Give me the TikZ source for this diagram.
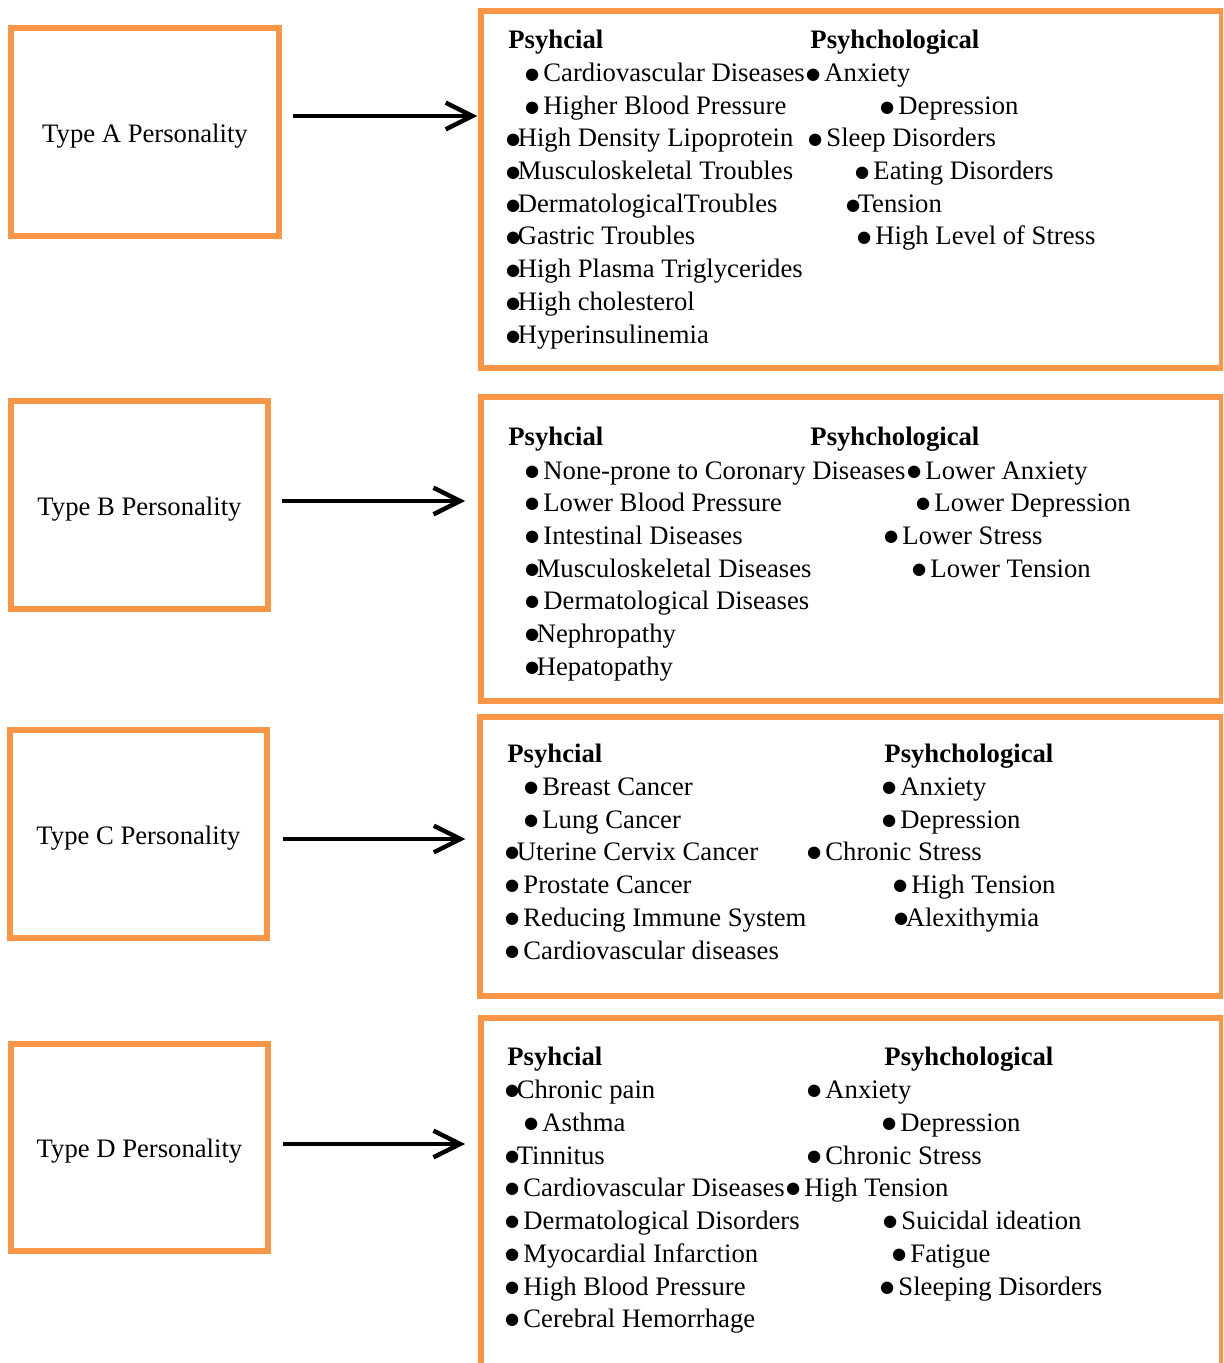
\documentclass[tikz,border=0pt]{standalone}
\usepackage{fontspec}
\setmainfont{Liberation Serif}
\newfontfamily\symfont{DejaVu Sans}
\usetikzlibrary{arrows.meta, fit}
\definecolor{cam}{RGB}{247,150,70}
\newcommand{\bul}{\makebox[4.2pt][c]{\raisebox{1.1pt}{\fontsize{7.3}{8}\symfont ●}}}

\begin{document}
\begin{tikzpicture}[x=0.45pt, y=-0.45pt,
		kbox/.style={draw=cam, line width=2.3pt, inner sep=0pt},
		ltext/.style={inner sep=0pt, yshift=-1.8pt, font=\fontsize{12}{14}\selectfont},
		rtext/.style={anchor=base west, inner sep=0pt, text height=8.5pt, text depth=2.5pt, font=\fontsize{12}{14}\selectfont},
		link/.style={-{Straight Barb[length=12pt, width=12pt]}, line width=2pt}]
			\useasboundingbox (0,0) rectangle (1223,1363);
			\clip (0,0) rectangle (1223,1363);

			% Các hộp bên trái
			\node[kbox, fit={(11,28) (279,236)}] (tA) {};
			\node[kbox, fit={(11,401) (268,609)}] (tB) {};
			\node[kbox, fit={(10,730) (267,938)}] (tC) {};
			\node[kbox, fit={(11,1044) (268,1251)}] (tD) {};
			\node[ltext] (nA) at (tA.center) {Type A Personality};
			\node[ltext] (nB) at (tB.center) {Type B Personality};
			\node[ltext] (nC) at (tC.center) {Type C Personality};
			\node[ltext] (nD) at (tD.center) {Type D Personality};

			% Các hộp bên phải
			\node[kbox, fit={(481,11) (1222,368)}] (pA) {};
			\node[kbox, fit={(481,397) (1222,701)}] (pB) {};
			\node[kbox, fit={(480,717) (1222,996)}] (pC) {};
			\node[kbox, fit={(481,1018) (1222,1400)}] (pD) {};

			% Mũi tên nối
			\coordinate (yA) at (0,116);
			\coordinate (yB) at (0,501);
			\coordinate (yC) at (0,839);
			\coordinate (yD) at (0,1144);
			\draw[link, shorten <=5pt, shorten >=0.5pt] (tA.east |- yA) -- (pA.west |- yA);
			\draw[link, shorten <=5pt, shorten >=6pt] (tB.east |- yB) -- (pB.west |- yB);
			\draw[link, shorten <=6pt, shorten >=5.4pt] (tC.east |- yC) -- (pC.west |- yC);
			\draw[link, shorten <=5.4pt, shorten >=6pt] (tD.east |- yD) -- (pD.west |- yD);

			% Kiểu A
			\node[rtext] (a0l) at (508,49) {\textbf{Psyhcial}};
			\node[rtext] (a0r) at (810,49) {\textbf{Psyhchological}};
			\node[rtext] (a1l) at (527,82) {\bul{} Cardiovascular Diseases};
			\node[rtext] (a1r) at (808,82) {\bul{} Anxiety};
			\node[rtext] (a2l) at (527,115) {\bul{} Higher Blood Pressure};
			\node[rtext] (a2r) at (882,115) {\bul{} Depression};
			\node[rtext] (a3l) at (508,147) {\bul{}High Density Lipoprotein};
			\node[rtext] (a3r) at (810,147) {\bul{} Sleep Disorders};
			\node[rtext] (a4l) at (508,180) {\bul{}Musculoskeletal Troubles};
			\node[rtext] (a4r) at (857,180) {\bul{} Eating Disorders};
			\node[rtext] (a5l) at (508,213) {\bul{}DermatologicalTroubles};
			\node[rtext] (a5r) at (848,213) {\bul{}Tension};
			\node[rtext] (a6l) at (508,245) {\bul{}Gastric Troubles};
			\node[rtext] (a6r) at (859,245) {\bul{} High Level of Stress};
			\node[rtext] (a7l) at (508,278) {\bul{}High Plasma Triglycerides};
			\node[rtext] (a8l) at (508,311) {\bul{}High cholesterol};
			\node[rtext] (a9l) at (508,344) {\bul{}Hyperinsulinemia};

			% Kiểu B
			\node[rtext] (b0l) at (508,446) {\textbf{Psyhcial}};
			\node[rtext] (b0r) at (810,446) {\textbf{Psyhchological}};
			\node[rtext] (b1l) at (527,479) {\bul{} None-prone to Coronary Diseases};
			\node[rtext] (b1r) at (909,479) {\bul{} Lower Anxiety};
			\node[rtext] (b2l) at (527,511) {\bul{} Lower Blood Pressure};
			\node[rtext] (b2r) at (918,511) {\bul{} Lower Depression};
			\node[rtext] (b3l) at (527,544) {\bul{} Intestinal Diseases};
			\node[rtext] (b3r) at (886,544) {\bul{} Lower Stress};
			\node[rtext] (b4l) at (527,577) {\bul{}Musculoskeletal Diseases};
			\node[rtext] (b4r) at (914,577) {\bul{} Lower Tension};
			\node[rtext] (b5l) at (527,609) {\bul{} Dermatological Diseases};
			\node[rtext] (b6l) at (527,642) {\bul{}Nephropathy};
			\node[rtext] (b7l) at (527,675) {\bul{}Hepatopathy};

			% Kiểu C
			\node[rtext] (c0l) at (507,762) {\textbf{Psyhcial}};
			\node[rtext] (c0r) at (884,762) {\textbf{Psyhchological}};
			\node[rtext] (c1l) at (526,795) {\bul{} Breast Cancer};
			\node[rtext] (c1r) at (884,795) {\bul{} Anxiety};
			\node[rtext] (c2l) at (526,828) {\bul{} Lung Cancer};
			\node[rtext] (c2r) at (884,828) {\bul{} Depression};
			\node[rtext] (c3l) at (507,860) {\bul{}Uterine Cervix Cancer};
			\node[rtext] (c3r) at (809,860) {\bul{} Chronic Stress};
			\node[rtext] (c4l) at (507,893) {\bul{} Prostate Cancer};
			\node[rtext] (c4r) at (895,893) {\bul{} High Tension};
			\node[rtext] (c5l) at (507,926) {\bul{} Reducing Immune System};
			\node[rtext] (c5r) at (896,926) {\bul{}Alexithymia};
			\node[rtext] (c6l) at (507,959) {\bul{} Cardiovascular diseases};

			% Kiểu D
			\node[rtext] (d0l) at (507,1065) {\textbf{Psyhcial}};
			\node[rtext] (d0r) at (884,1065) {\textbf{Psyhchological}};
			\node[rtext] (d1l) at (507,1098) {\bul{}Chronic pain};
			\node[rtext] (d1r) at (809,1098) {\bul{} Anxiety};
			\node[rtext] (d2l) at (526,1131) {\bul{} Asthma};
			\node[rtext] (d2r) at (884,1131) {\bul{} Depression};
			\node[rtext] (d3l) at (507,1164) {\bul{}Tinnitus};
			\node[rtext] (d3r) at (809,1164) {\bul{} Chronic Stress};
			\node[rtext] (d4l) at (507,1196) {\bul{} Cardiovascular Diseases};
			\node[rtext] (d4r) at (788,1196) {\bul{} High Tension};
			\node[rtext] (d5l) at (507,1229) {\bul{} Dermatological Disorders};
			\node[rtext] (d5r) at (885,1229) {\bul{} Suicidal ideation};
			\node[rtext] (d6l) at (507,1262) {\bul{} Myocardial Infarction};
			\node[rtext] (d6r) at (894,1262) {\bul{} Fatigue};
			\node[rtext] (d7l) at (507,1295) {\bul{} High Blood Pressure};
			\node[rtext] (d7r) at (882,1295) {\bul{} Sleeping Disorders};
			\node[rtext] (d8l) at (507,1327) {\bul{} Cerebral Hemorrhage};
		\end{tikzpicture}
\end{document}
